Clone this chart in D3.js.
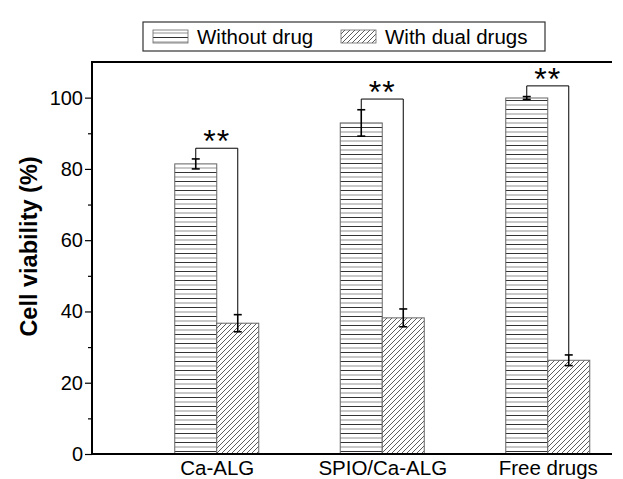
<!DOCTYPE html>
<html><head><meta charset="utf-8">
<script src="https://cdn.jsdelivr.net/npm/d3@7"></script>
<style>body{margin:0;background:#fff}svg{display:block}text{font-family:"Liberation Sans",Arial,sans-serif}</style>
</head><body>
<script>
const categories = ["Ca-ALG", "SPIO/Ca-ALG", "Free drugs"];
const seriesNames = ["Without drug", "With dual drugs"];
const withoutDrug = [81.4, 92.9, 99.9];
const withoutDrugErr = [1.4, 3.7, 0.4];
const withDual = [36.7, 38.2, 26.3];
const withDualErr = [2.4, 2.5, 1.5];
const yTicks = [0, 20, 40, 60, 80, 100];
const yMinorTicks = [10, 30, 50, 70, 90];
const sigLabel = "**";

(function(){
const W = 623, H = 479;
const svg = d3.select("body").append("svg").attr("width", W).attr("height", H);
const defs = svg.append("defs");
const ph = defs.append("pattern").attr("id","hz").attr("patternUnits","userSpaceOnUse").attr("width",10).attr("height",9);
ph.append("rect").attr("width",10).attr("height",9).attr("fill","#fff");
ph.append("line").attr("x1",0).attr("x2",10).attr("y1",1.5).attr("y2",1.5).attr("stroke","#333").attr("stroke-width",1);
ph.append("line").attr("x1",0).attr("x2",10).attr("y1",6).attr("y2",6).attr("stroke","#aaa").attr("stroke-width",1.3);
const pd = defs.append("pattern").attr("id","dg").attr("patternUnits","userSpaceOnUse").attr("width",5).attr("height",5);
pd.append("rect").attr("width",5).attr("height",5).attr("fill","#fff");
pd.append("path").attr("d","M0,5 L5,0 M-1,1 L1,-1 M4,6 L6,4").attr("stroke","#333").attr("stroke-width",0.8);

const pLeft = 92, pRight = 612, pTop = 62, pBottom = 454;
const y = d3.scaleLinear().domain([0, 110]).range([pBottom, pTop]);
const x = d3.scalePoint().domain(categories).range([134, 630.5]).padding(0.5);
const bw = 42;

const series = [
  {vals: withoutDrug, err: withoutDrugErr, fill: "url(#hz)", off: -bw},
  {vals: withDual, err: withDualErr, fill: "url(#dg)", off: 0}
];

series.forEach(s => {
  svg.append("g").selectAll("rect").data(categories).join("rect")
    .attr("x", d => x(d) + s.off).attr("width", bw)
    .attr("y", (d,i) => y(s.vals[i])).attr("height", (d,i) => y(0) - y(s.vals[i]))
    .attr("fill", s.fill).attr("stroke", "#666").attr("stroke-width", 1);
});

series.forEach(s => {
  const g = svg.append("g").attr("stroke","#000").attr("stroke-width",1.6);
  categories.forEach((c,i) => {
    const cx = x(c) + s.off + bw/2;
    const y1 = y(s.vals[i] + s.err[i]), y2 = y(s.vals[i] - s.err[i]);
    g.append("line").attr("x1",cx).attr("x2",cx).attr("y1",y1).attr("y2",y2);
    g.append("line").attr("x1",cx-4).attr("x2",cx+4).attr("y1",y1).attr("y2",y1);
    g.append("line").attr("x1",cx-4).attr("x2",cx+4).attr("y1",y2).attr("y2",y2);
  });
});

const bg = svg.append("g");
categories.forEach((c,i) => {
  const t1 = withoutDrug[i] + withoutDrugErr[i], t2 = withDual[i] + withDualErr[i];
  const by = y(Math.max(t1, t2) + 3);
  const xa = x(c) - bw/2, xb = x(c) + bw/2;
  bg.append("path").attr("d", `M${xa},${y(t1)} V${by} H${xb} V${y(t2)}`)
    .attr("fill","none").attr("stroke","#000").attr("stroke-width",1);
  bg.append("text").attr("x", x(c)).attr("y", by + 4).attr("text-anchor","middle")
    .attr("font-size", 32).attr("letter-spacing", 1).attr("fill","#000").text(sigLabel);
});

const ya = svg.append("g").attr("transform", `translate(${pLeft},0)`)
  .call(d3.axisLeft(y).tickValues(yTicks).tickSize(7).tickSizeOuter(0).tickPadding(2));
ya.select(".domain").remove();
ya.selectAll("text").attr("font-size", 20).attr("fill","#000").attr("font-family","Liberation Sans, Arial, sans-serif");
ya.selectAll("line").attr("stroke","#000").attr("stroke-width",1.2);
const ym = svg.append("g").attr("transform", `translate(${pLeft},0)`)
  .call(d3.axisLeft(y).tickValues(yMinorTicks).tickSize(4).tickFormat(""));
ym.select(".domain").remove();
ym.selectAll("line").attr("stroke","#000").attr("stroke-width",1.2);

const xax = svg.append("g").attr("transform", `translate(0,${pBottom})`)
  .call(d3.axisBottom(x).tickSize(0).tickPadding(6));
xax.select(".domain").remove();
xax.selectAll("text").attr("font-size", 20.5).attr("fill","#000").attr("font-family","Liberation Sans, Arial, sans-serif");

svg.append("path").attr("d", `M${pRight},${pTop} H${pLeft} V${pBottom} H${pRight}`)
  .attr("fill","none").attr("stroke","#000").attr("stroke-width",2);

svg.append("text").attr("transform", `translate(37,246.5) rotate(-90)`)
  .attr("text-anchor","middle").attr("font-size", 23.5).attr("font-weight","bold").text("Cell viability (%)");

const lg = svg.append("g");
lg.append("rect").attr("x",143).attr("y",22).attr("width",402).attr("height",29)
  .attr("fill","#fff").attr("stroke","#333").attr("stroke-width",1.2);
const legX = [153, 341];
seriesNames.forEach((n,i) => {
  lg.append("rect").attr("x", legX[i]).attr("y", 30).attr("width", 35).attr("height", 13)
    .attr("fill", series[i].fill).attr("stroke","#666").attr("stroke-width",0.8);
  lg.append("text").attr("x", legX[i] + 44).attr("y", 44).attr("font-size", 20.5).attr("fill","#000").text(n);
});
})();
</script>
</body></html>
